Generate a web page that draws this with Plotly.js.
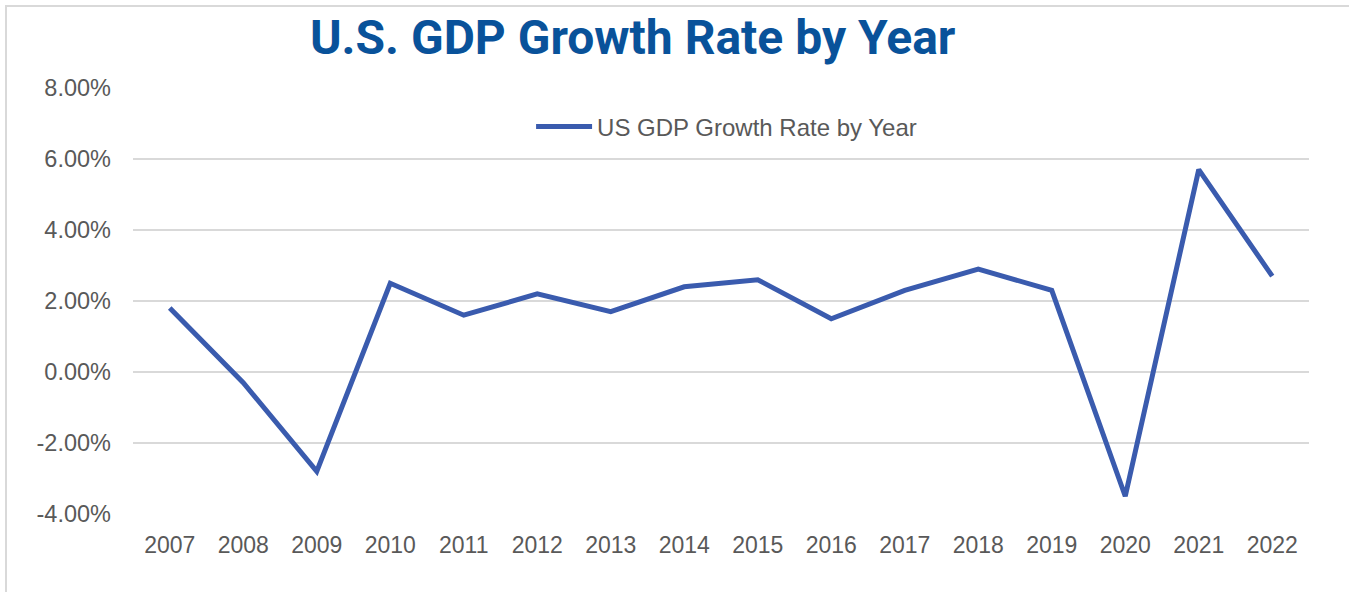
<!DOCTYPE html>
<html>
<head>
<meta charset="utf-8">
<script src="https://cdn.plot.ly/plotly-3.0.1.min.js"></script>
<style>
  html, body { margin:0; padding:0; background:#ffffff; }
  #frame { position:absolute; left:5px; top:5px; width:1400px; height:620px; border:2px solid #D9D9D9; box-sizing:border-box; }
  #chart { position:absolute; left:0; top:0; width:1349px; height:592px; }
</style>
</head>
<body>
<div id="frame"></div>
<div id="chart"></div>
<script>
const years = ['2007','2008','2009','2010','2011','2012','2013','2014','2015','2016','2017','2018','2019','2020','2021','2022'];
const growthRate = [1.8, -0.3, -2.8, 2.5, 1.6, 2.2, 1.7, 2.4, 2.6, 1.5, 2.3, 2.9, 2.3, -3.5, 5.7, 2.7];
const seriesName = 'US GDP Growth Rate by Year';
const chartTitle = 'U.S. GDP Growth Rate by Year';
const yTicks = [-4, -2, 0, 2, 4, 6, 8];
const yTickLabels = ['-4.00%', '-2.00%', '0.00%', '2.00%', '4.00%', '6.00%', '8.00%'];

const trace = {
  x: years,
  y: growthRate,
  type: 'scatter',
  mode: 'lines',
  name: seriesName,
  line: { color: '#3A5BAE', width: 5 },
  showlegend: true
};

const layout = {
  width: 1349,
  height: 592,
  margin: { l: 133, r: 40, t: 88, b: 78 },
  paper_bgcolor: 'rgba(0,0,0,0)',
  plot_bgcolor: 'rgba(0,0,0,0)',
  font: { family: 'Liberation Sans, Arial, sans-serif', color: '#595959', size: 22 },
  title: {
    text: chartTitle,
    font: { family: 'Roboto, sans-serif', size: 48, color: '#09529A', weight: 'bold' },
    xref: 'container', x: 0.469, xanchor: 'center',
    yref: 'container', y: 0.9375, yanchor: 'middle'
  },
  showlegend: true,
  legend: {
    orientation: 'h',
    x: 0.3385, xanchor: 'left',
    y: 0.9085, yanchor: 'middle',
    itemwidth: 56,
    font: { size: 24, color: '#595959' },
    bgcolor: 'rgba(0,0,0,0)'
  },
  xaxis: {
    type: 'category',
    range: [-0.5, years.length - 0.5],
    showgrid: false,
    zeroline: false,
    showline: false,
    ticks: '',
    ticklabelstandoff: 15,
    tickfont: { size: 23, color: '#595959' },
    fixedrange: true
  },
  yaxis: {
    range: [-4, 8],
    tickvals: yTicks,
    ticktext: yTickLabels,
    showgrid: true,
    gridcolor: '#D9D9D9',
    gridwidth: 1.5,
    zeroline: false,
    showline: false,
    ticks: '',
    ticklabelstandoff: 21,
    tickfont: { size: 23.5, color: '#595959' },
    fixedrange: true
  }
};

Plotly.newPlot('chart', [trace], layout, { displayModeBar: false, staticPlot: true });
</script>
</body>
</html>
